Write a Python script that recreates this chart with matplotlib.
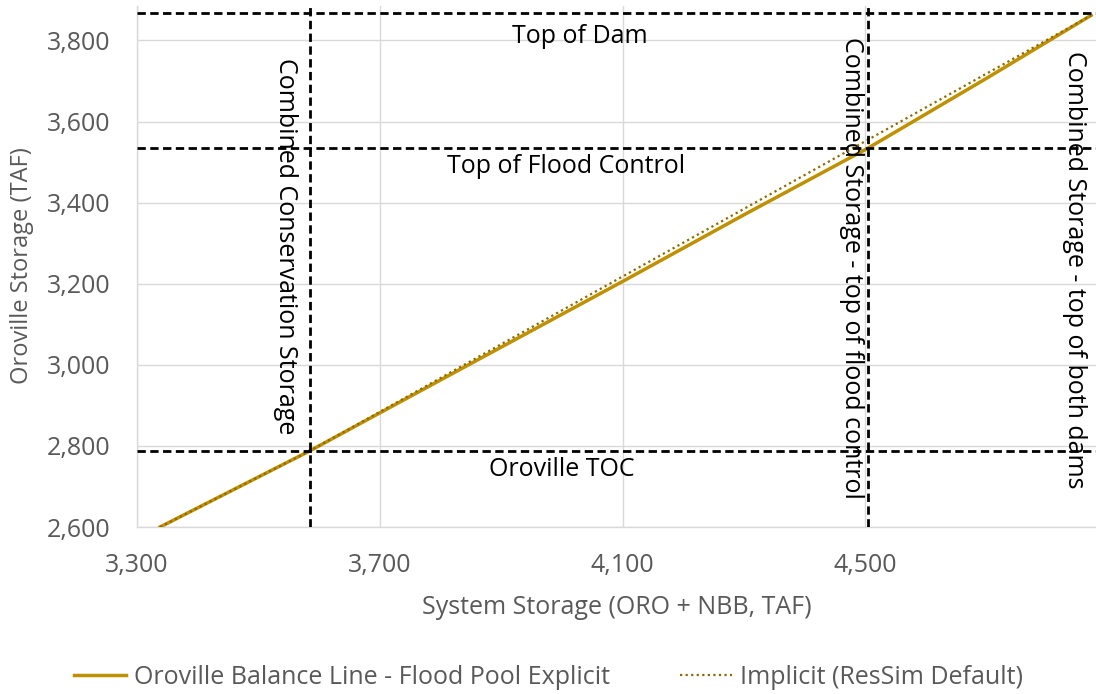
import matplotlib
matplotlib.use("Agg")
import matplotlib.pyplot as plt
from matplotlib.lines import Line2D

# Data
explicit_x = [3338, 3585, 3850, 4103, 4300, 4505, 4700, 4872]
explicit_y = [2600, 2788, 3003, 3208, 3370, 3535, 3707, 3862]
implicit_x = [3338, 3585, 4872]
implicit_y = [2600, 2788, 3862]

h_levels = [3867, 3536, 2788]
h_labels = ["Top of Dam", "Top of Flood Control", "Oroville TOC"]
v_levels = [3585, 4505, 4890]   # last one lies just beyond the visible x range
v_labels = ["Combined Conservation Storage",
            "Combined Storage - top of flood control",
            "Combined Storage - top of both dams"]

x_ticks = [3300, 3700, 4100, 4500]
y_ticks = [2600, 2800, 3000, 3200, 3400, 3600, 3800]

legend_labels = ["Oroville Balance Line - Flood Pool Explicit", "Implicit (ResSim Default)"]

plt.rcParams['font.family'] = ['Open Sans', 'DejaVu Sans']

fig = plt.figure(figsize=(10.96, 6.94), dpi=100)
ax = fig.add_axes([137/1096, 1 - 527/694, 1 - 137/1096, (527 - 6)/694])

ax.set_xlim(3300, 4880)
ax.set_ylim(2600, 3885)
ax.set_xticks(x_ticks)
ax.set_yticks(y_ticks)
ax.set_xticklabels([f"{v:,}" for v in x_ticks])
ax.set_yticklabels([f"{v:,}" for v in y_ticks])
ax.grid(True, color='#D9D9D9', lw=1)
ax.set_axisbelow(True)
for s in ['top', 'right']:
    ax.spines[s].set_visible(False)
for s in ['left', 'bottom']:
    ax.spines[s].set_color('#D9D9D9')
    ax.spines[s].set_linewidth(1)
ax.tick_params(axis='x', length=0, labelsize=18, colors='#595959', pad=19)
ax.tick_params(axis='y', length=0, labelsize=18, colors='#595959', pad=19)

gold = '#BF9000'
dot_col = '#8C6A00'
ax.plot(explicit_x, explicit_y, color=gold, lw=2.5, zorder=3)
ax.plot(implicit_x, implicit_y, color=dot_col, lw=1.6, ls=(0, (1, 1.5)), zorder=4)

dash = (0, (3, 1.6))
for y in h_levels:
    ax.axhline(y, color='black', lw=2, ls=dash, zorder=5)
for x in v_levels:
    ax.axvline(x, color='black', lw=2, ls=dash, zorder=5)

tk = dict(fontsize=18, color='black')
ax.text(4029, 3809, h_labels[0], ha='center', va='center', **tk)
ax.text(4007, 3488, h_labels[1], ha='center', va='center', **tk)
ax.text(4000, 2741, h_labels[2], ha='center', va='center', **tk)

ax.text(3544, 3293, v_labels[0], rotation=-90, ha='center', va='center', **tk)
ax.text(4477, 3239, v_labels[1], rotation=-90, ha='center', va='center', **tk)
ax.text(4844, 3234, v_labels[2], rotation=-90, ha='center', va='center', **tk)

ax.set_ylabel("Oroville Storage (TAF)", fontsize=17, color='#595959', va='center')
ax.yaxis.set_label_coords(-(137 - 22)/959, (527 - 266)/521)
ax.set_xlabel("System Storage (ORO + NBB, TAF)", fontsize=18, color='#595959', labelpad=12)

handles = [Line2D([], [], color=gold, lw=2.5),
           Line2D([], [], color=dot_col, lw=1.6, ls=(0, (1, 1.5)))]
fig.legend(handles, legend_labels, loc='center', bbox_to_anchor=(0.5, 1 - 677/694),
           ncol=2, frameon=False, fontsize=18, handlelength=2.1, handletextpad=0.3,
           columnspacing=2.8, labelcolor='#595959')

fig.savefig("out.png", dpi=100)
